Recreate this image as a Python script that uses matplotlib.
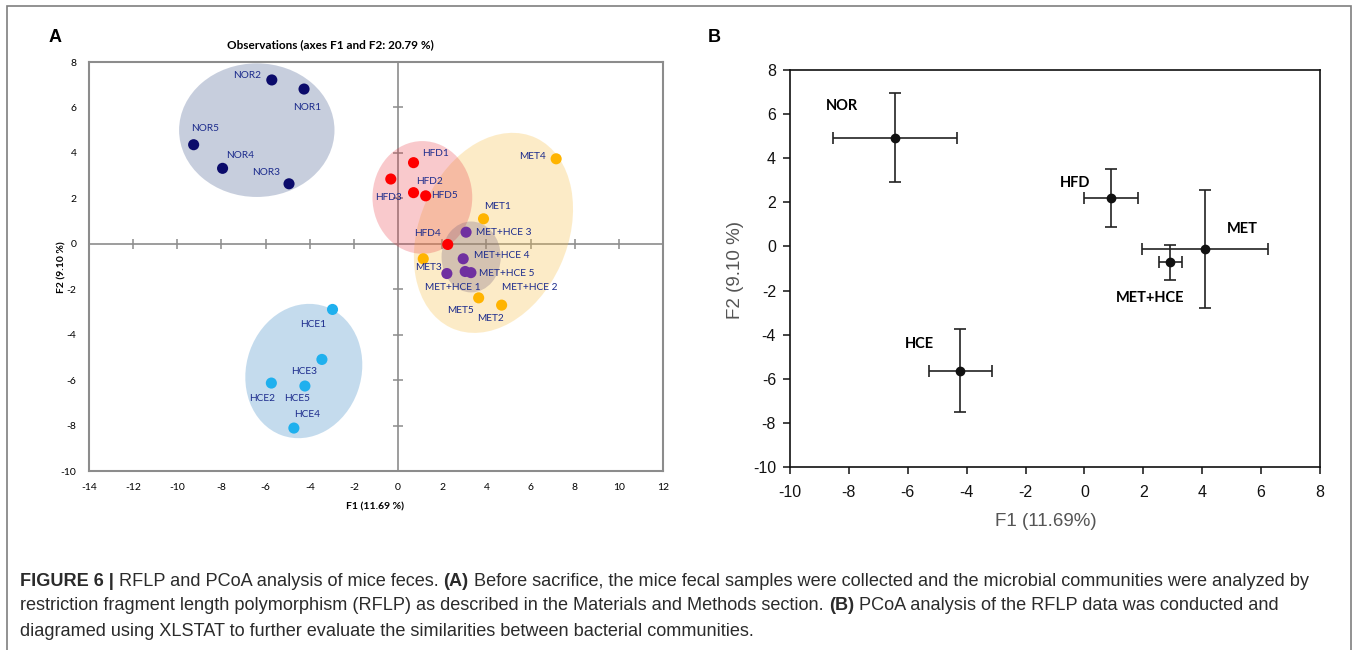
import matplotlib
matplotlib.use("Agg")
import matplotlib.pyplot as plt
from matplotlib.patches import Ellipse, Rectangle

plt.rcParams["axes.unicode_minus"] = False

W, H = 1357, 650

# ---- panel A: observation scores (F1, F2) ----
nor_names = ["NOR1", "NOR2", "NOR3", "NOR4", "NOR5"]
nor_f1 = [-4.26, -5.72, -4.94, -7.95, -9.26]
nor_f2 = [6.81, 7.21, 2.64, 3.32, 4.36]

hfd_names = ["HFD1", "HFD2", "HFD3", "HFD4", "HFD5"]
hfd_f1 = [0.70, 0.70, -0.33, 2.25, 1.25]
hfd_f2 = [3.57, 2.25, 2.85, -0.03, 2.11]

met_names = ["MET1", "MET2", "MET3", "MET4", "MET5"]
met_f1 = [3.87, 4.69, 1.14, 7.16, 3.65]
met_f2 = [1.10, -2.70, -0.66, 3.74, -2.38]

mh_names = ["MET+HCE 1", "MET+HCE 2", "MET+HCE 3", "MET+HCE 4", "MET+HCE 5"]
mh_f1 = [2.21, 3.04, 3.08, 2.95, 3.30]
mh_f2 = [-1.31, -1.22, 0.51, -0.66, -1.27]

hce_names = ["HCE1", "HCE2", "HCE3", "HCE4", "HCE5"]
hce_f1 = [-2.97, -5.74, -3.45, -4.72, -4.22]
hce_f2 = [-2.89, -6.13, -5.09, -8.11, -6.26]

# label offsets in pixels (dx, dy)
nor_off = [(3, -18), (-25, 4), (-23, 11), (18, 13), (11, 16)]
hfd_off = [(22, 9), (16, 11), (-2, -18), (-20, 11), (19, 0)]
met_off = [(14, 12), (-11, -13), (5, -9), (-24, 2), (-18, -13)]
mh_off = [(6, -14), (65, -16), (38, 0), (39, 3), (36, -1)]
hce_off = [(-19, -15), (-9, -15), (-18, -12), (13, 14), (-8, -12)]

# group ellipses: centre, full width, full height, angle
ell_groups = ["MET", "NOR", "HCE", "HFD", "MET+HCE"]
ell_cx = [4.32, -6.40, -4.27, 1.10, 3.31]
ell_cy = [0.48, 5.00, -5.60, 2.04, -0.58]
ell_w = [6.7, 7.04, 5.2, 4.52, 2.68]
ell_h = [9.2, 5.88, 6.0, 4.96, 3.12]
ell_ang = [-25, 0, -20, 0, 0]
ell_col = ["#f8c048", "#485f91", "#3c8ac6", "#e8323c", "#6e5a78"]
ell_alpha = [0.3, 0.3, 0.3, 0.26, 0.28]

# ---- panel B: group centroids with error bars ----
grp_names = ["NOR", "HFD", "MET", "MET+HCE", "HCE"]
grp_f1 = [-6.43, 0.91, 4.10, 2.92, -4.22]
grp_f2 = [4.92, 2.20, -0.12, -0.72, -5.63]
grp_xerr = [2.10, 0.92, 2.13, 0.39, 1.07]
grp_yerr = [2.02, 1.33, 2.68, 0.80, 1.89]
grp_lab_x = [-8.23, -0.33, 5.37, 2.23, -5.60]
grp_lab_y = [6.35, 2.89, 0.78, -2.36, -4.43]

fig = plt.figure(figsize=(W / 100, H / 100), dpi=100)

def ax_rect(l, t, r, b):
    return [l / W, 1 - b / H, (r - l) / W, (b - t) / H]

# outer frame
fig.patches.append(Rectangle((7 / W, -0.05), (1351 - 7) / W, 1 - 6 / H + 0.05,
                             transform=fig.transFigure, fill=False,
                             edgecolor="#7f7f7f", linewidth=1.2))

lato = ["Lato", "DejaVu Sans"]
narrow = ["Liberation Sans Narrow", "Liberation Sans", "DejaVu Sans"]

# ================= panel A =================
axA = fig.add_axes(ax_rect(89, 62, 663, 471))
axA.set_xlim(-14, 12)
axA.set_ylim(-10, 8)
axA.set_xticks(range(-14, 13, 2))
axA.set_yticks(range(-10, 9, 2))
for sp in axA.spines.values():
    sp.set_color("#8c8c8c")
    sp.set_linewidth(1.5)
axA.tick_params(length=0, labelsize=7.5, pad=9)
for lab in axA.get_xticklabels() + axA.get_yticklabels():
    lab.set_family(lato)

axA.axhline(0, color="#8c8c8c", lw=1.2, zorder=1)
axA.axvline(0, color="#8c8c8c", lw=1.2, zorder=1)
xt = [v for v in axA.get_xticks() if -14 < v < 12 and v != 0]
yt = [v for v in axA.get_yticks() if -10 < v < 8 and v != 0]
axA.plot(xt, [0] * len(xt), ls="none", marker="|", ms=7, mew=1.1, color="#8c8c8c", zorder=1)
axA.plot([0] * len(yt), yt, ls="none", marker="_", ms=7, mew=1.1, color="#8c8c8c", zorder=1)

for cx, cy, w, h, a, c, al in zip(ell_cx, ell_cy, ell_w, ell_h, ell_ang, ell_col, ell_alpha):
    axA.add_patch(Ellipse((cx, cy), w, h, angle=a, facecolor=c, alpha=al,
                          edgecolor="none", zorder=2))

groups = [
    (nor_names, nor_f1, nor_f2, nor_off, "#0b0b6b"),
    (hfd_names, hfd_f1, hfd_f2, hfd_off, "#ff0000"),
    (met_names, met_f1, met_f2, met_off, "#ffb400"),
    (mh_names, mh_f1, mh_f2, mh_off, "#7030a0"),
    (hce_names, hce_f1, hce_f2, hce_off, "#1fb0ee"),
]
for names, xs, ys, offs, col in groups:
    axA.scatter(xs, ys, s=64, color=col, edgecolors="none", zorder=4)
    for n, x, y, (dx, dy) in zip(names, xs, ys, offs):
        axA.annotate(n, (x, y), xytext=(dx, dy), textcoords="offset pixels",
                     ha="center", va="center", fontsize=7.3, color="#1c2b8c",
                     family=lato, zorder=5)

fig.text(375 / W, 1 - 507 / H, "F1 (11.69 %)", ha="center", va="center",
         fontsize=7.5, fontweight="bold", family=lato)
fig.text(62 / W, 1 - 267 / H, "F2 (9.10 %)", ha="center", va="center",
         rotation=90, fontsize=7.5, fontweight="bold", family=lato)
fig.text(330 / W, 1 - 45 / H, "Observations (axes F1 and F2: 20.79 %)",
         ha="center", va="center", fontsize=8.5, fontweight="bold", family=lato)
fig.text(55 / W, 1 - 37 / H, "A", ha="center", va="center", fontsize=13,
         fontweight="bold", family=["Liberation Sans", "DejaVu Sans"])

# ================= panel B =================
axB = fig.add_axes(ax_rect(790, 70, 1320, 467))
axB.set_xlim(-10, 8)
axB.set_ylim(-10, 8)
axB.set_xticks(range(-10, 9, 2))
axB.set_yticks(range(-10, 9, 2))
for sp in axB.spines.values():
    sp.set_color("#111111")
    sp.set_linewidth(1.2)
axB.tick_params(direction="out", length=5, width=1.1, labelsize=11.5, pad=5,
                colors="#111111")
axB.tick_params(axis="x", pad=8)
for lab in axB.get_xticklabels() + axB.get_yticklabels():
    lab.set_family(narrow)

axB.errorbar(grp_f1, grp_f2, xerr=grp_xerr, yerr=grp_yerr, fmt="o", ms=6,
             color="#111111", ecolor="#222222", elinewidth=1.2, capsize=4.5,
             capthick=1.2, zorder=3)
for n, x, y in zip(grp_names, grp_lab_x, grp_lab_y):
    axB.text(x, y, n, ha="center", va="center", fontsize=10.5,
             fontweight="bold", family=lato)

fig.text(1046 / W, 1 - 522 / H, "F1 (11.69%)", ha="center", va="center",
         fontsize=13.5, color="#555555", family=narrow)
fig.text(735 / W, 1 - 270 / H, "F2 (9.10 %)", ha="center", va="center",
         rotation=90, fontsize=13.5, color="#555555", family=narrow)
fig.text(714 / W, 1 - 37 / H, "B", ha="center", va="center", fontsize=13,
         fontweight="bold", family=["Liberation Sans", "DejaVu Sans"])

# ================= caption =================
cap_lines = [
    [("FIGURE 6 |", True), (" RFLP and PCoA analysis of mice feces. ", False),
     ("(A)", True),
     (" Before sacrifice, the mice fecal samples were collected and the microbial communities were analyzed by", False)],
    [("restriction fragment length polymorphism (RFLP) as described in the Materials and Methods section. ", False),
     ("(B)", True), (" PCoA analysis of the RFLP data was conducted and", False)],
    [("diagramed using XLSTAT to further evaluate the similarities between bacterial communities.", False)],
]
cap_y = [581, 606, 631]
cap_size = 13.1
renderer = fig.canvas.get_renderer()

def run_width(s, bold):
    kw = dict(fontsize=cap_size, fontweight="bold" if bold else "normal", family=narrow)
    t1 = fig.text(0, 0, "|" + s + "|", **kw)
    t2 = fig.text(0, 0, "||", **kw)
    w = t1.get_window_extent(renderer).width - t2.get_window_extent(renderer).width
    t1.remove()
    t2.remove()
    return w

for line, y in zip(cap_lines, cap_y):
    x = 20
    for s, bold in line:
        fig.text(x / W, 1 - y / H, s, ha="left", va="center", fontsize=cap_size,
                 fontweight="bold" if bold else "normal", family=narrow,
                 color="#2b2b2b")
        x += run_width(s, bold)

fig.savefig("out.png", dpi=100)
